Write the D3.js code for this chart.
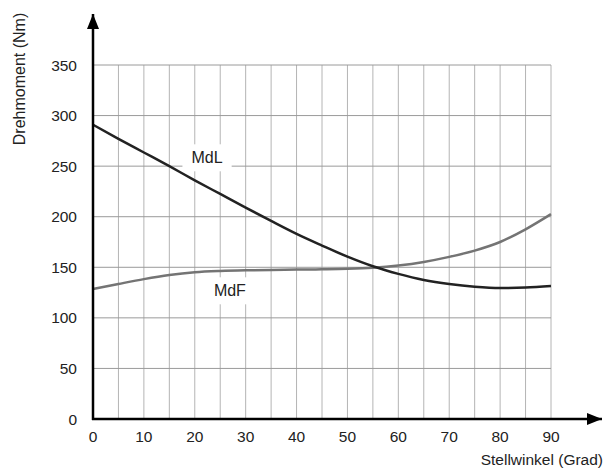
<!DOCTYPE html>
<html>
<head>
<meta charset="utf-8">
<script src="https://cdn.jsdelivr.net/npm/d3@7"></script>
<style>
  body { margin: 0; background: #fff; }
  svg { font-family: "Liberation Sans", Arial, sans-serif; }
</style>
</head>
<body>
<svg width="603" height="470"></svg>
<script>
const w = 603;
const h = 470;

// Stellwinkel (Grad)
const angles = [0, 5, 10, 15, 20, 25, 30, 35, 40, 45, 50, 55, 60, 65, 70, 75, 80, 85, 90];
// Drehmoment MdL (Nm)
const mdL = [291, 277, 263.5, 250, 236, 222.5, 209, 195.8, 183, 171.5, 160.5, 151, 143.5, 137.5, 133.5, 130.8, 129.5, 130, 131.5];
// Drehmoment MdF (Nm)
const mdF = [128.5, 133.5, 138.3, 142.3, 145, 146.3, 147, 147.4, 147.7, 148, 148.5, 149.6, 151.8, 155.3, 160.3, 166.5, 175, 187.5, 202.5];

const xTicks = [0, 10, 20, 30, 40, 50, 60, 70, 80, 90];
const yTicks = [0, 50, 100, 150, 200, 250, 300, 350];
const xGrid = d3.range(5, 95, 5);

let svg = d3.select('svg');

const x = d3.scaleLinear().domain([0, 90]).range([93, 551]);
const y = d3.scaleLinear().domain([0, 350]).range([419, 65]);

// arrow head marker
svg.append('defs')
  .append('marker')
  .attr('id', 'arrow')
  .attr('viewBox', '0 0 15 12')
  .attr('refX', 15)
  .attr('refY', 6)
  .attr('markerUnits', 'userSpaceOnUse')
  .attr('markerWidth', 15)
  .attr('markerHeight', 12)
  .attr('orient', 'auto')
  .append('path')
  .attr('d', 'M0,0 L15,6 L0,12 Z')
  .attr('fill', '#000');

// vertical grid lines every 5 degrees
svg.append('g')
  .selectAll('line')
  .data(xGrid)
  .enter()
  .append('line')
  .attr('x1', d => x(d))
  .attr('x2', d => x(d))
  .attr('y1', y(350))
  .attr('y2', y(0))
  .attr('stroke', '#b4b4b4')
  .attr('stroke-width', 1);

// horizontal grid lines
svg.append('g')
  .selectAll('line')
  .data(yTicks.slice(1))
  .enter()
  .append('line')
  .attr('x1', x(0))
  .attr('x2', x(90))
  .attr('y1', d => y(d))
  .attr('y2', d => y(d))
  .attr('stroke', '#9a9a9a')
  .attr('stroke-width', 1);

const line = d3.line()
  .x((d, i) => x(angles[i]))
  .y(d => y(d))
  .curve(d3.curveMonotoneX);

svg.append('path')
  .attr('d', line(mdF))
  .attr('fill', 'none')
  .attr('stroke', '#747474')
  .attr('stroke-width', 2.5);

svg.append('path')
  .attr('d', line(mdL))
  .attr('fill', 'none')
  .attr('stroke', '#222')
  .attr('stroke-width', 2.5);

// curve labels with white box behind
const labels = [
  { text: 'MdL', a: 22.4, v: 258.5 },
  { text: 'MdF', a: 26.9, v: 127 }
];
labels.forEach(l => {
  const g = svg.append('g');
  const t = g.append('text')
    .attr('x', x(l.a))
    .attr('y', y(l.v))
    .attr('text-anchor', 'middle')
    .attr('dy', '0.36em')
    .attr('font-size', 16)
    .attr('fill', '#222')
    .text(l.text);
  const bb = t.node().getBBox();
  g.insert('rect', 'text')
    .attr('x', bb.x - 9)
    .attr('y', bb.y - 5)
    .attr('width', bb.width + 18)
    .attr('height', bb.height + 10)
    .attr('fill', '#fff');
});

// axes
svg.append('line')
  .attr('x1', x(0) - 1).attr('x2', 602)
  .attr('y1', y(0)).attr('y2', y(0))
  .attr('stroke', '#000').attr('stroke-width', 2.5)
  .attr('marker-end', 'url(#arrow)');

svg.append('line')
  .attr('x1', x(0)).attr('x2', x(0))
  .attr('y1', y(0) + 1).attr('y2', 14)
  .attr('stroke', '#000').attr('stroke-width', 2.5)
  .attr('marker-end', 'url(#arrow)');

// tick labels
svg.append('g')
  .selectAll('text')
  .data(xTicks)
  .enter()
  .append('text')
  .attr('x', d => x(d))
  .attr('y', 442)
  .attr('text-anchor', 'middle')
  .attr('font-size', 15.5)
  .attr('fill', '#222')
  .text(d => d);

svg.append('g')
  .selectAll('text')
  .data(yTicks)
  .enter()
  .append('text')
  .attr('x', 77)
  .attr('y', d => y(d))
  .attr('dy', '0.36em')
  .attr('text-anchor', 'end')
  .attr('font-size', 15.5)
  .attr('fill', '#222')
  .text(d => d);

// axis titles
svg.append('text')
  .attr('x', 603)
  .attr('y', 465)
  .attr('text-anchor', 'end')
  .attr('font-size', 15.5)
  .attr('fill', '#222')
  .text('Stellwinkel (Grad)');

svg.append('text')
  .attr('transform', 'translate(24.5,79) rotate(-90)')
  .attr('text-anchor', 'middle')
  .attr('font-size', 16)
  .attr('fill', '#222')
  .text('Drehmoment (Nm)');
</script>
</body>
</html>
